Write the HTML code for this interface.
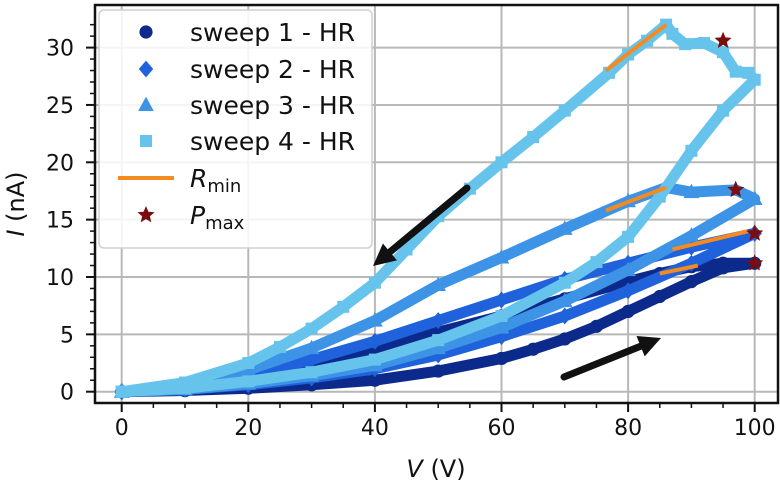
<!DOCTYPE html>
<html><head><meta charset="utf-8"><style>
body{margin:0;background:#fff}
svg text{font-family:"DejaVu Sans","Liberation Sans",sans-serif;fill:#111}
</style></head><body>
<svg id="c" width="780" height="486" xmlns="http://www.w3.org/2000/svg"></svg>
<script>
const sweepNames=["sweep 1 - HR","sweep 2 - HR","sweep 3 - HR","sweep 4 - HR"];
const sweepColors=["#0c2a8c","#1f62dc","#3d94e6","#66c3ec"];
const sweepMarkers=["circle","diamond","triangle","square"];
const s1V=[0,10,20,30,40,50,60,65,70,75,80,85,90,95,100,95,90,85,80,70,60,50,40,30,20,10,0];
const s1I=[0,0.1,0.3,0.6,1.0,1.8,2.9,3.7,4.6,5.7,7.0,8.3,9.6,10.8,11.2,11.2,10.9,10.3,9.6,8.1,6.6,5.2,3.8,2.4,1.2,0.3,0];
const s2V=[0,10,20,30,40,50,60,70,80,90,100,90,80,70,60,50,40,30,20,10,0];
const s2I=[0,0.2,0.6,1.2,2.0,3.2,4.8,6.6,8.8,11.2,13.8,12.6,11.2,9.8,8.0,6.2,4.4,2.8,1.4,0.4,0];
const s3V=[0,10,20,30,40,50,60,70,80,90,100,97,90,86,80,70,60,50,40,30,20,10,0];
const s3I=[0,0.2,0.7,1.4,2.3,3.8,5.6,7.9,10.6,13.6,16.8,17.6,17.4,17.8,16.6,14.2,11.7,9.3,6.2,3.8,1.9,0.6,0];
const s4V=[0,10,20,30,40,50,60,70,75,80,85,90,95,100,99,97,95,92,89,87,86,83,80,77,70,65,60,55,50,45,40,35,30,25,20,10,0];
const s4I=[0,0.3,0.9,1.7,2.8,4.5,6.6,9.5,11.3,13.5,17,21,24.5,27.2,27.8,27.9,29.6,30.4,30.3,31.2,32,30.6,29.4,27.8,24.5,22.2,20,17.7,15.3,12.4,9.5,7.4,5.5,3.9,2.5,0.8,0];
const sweepV=[s1V,s2V,s3V,s4V], sweepI=[s1I,s2I,s3I,s4I];
const rminV0=[85,87,76.5,76.5], rminI0=[10.3,12.4,15.8,28], rminV1=[91,99,86,86], rminI1=[11,14,17.8,32];
const pmaxV=[100,100,97,95], pmaxI=[11.2,13.8,17.6,30.6];
const xTicks=[0,20,40,60,80,100], yTicks=[0,5,10,15,20,25,30];

const NS="http://www.w3.org/2000/svg", svg=document.getElementById('c');
const L=95,R=778,T=5,B=403;
const X=v=>121.7+v*6.33, Y=i=>391.7-i*11.47;
function el(t,a,p){const e=document.createElementNS(NS,t);for(const k in a)e.setAttribute(k,a[k]);(p||svg).appendChild(e);return e;}
function marker(type,x,y,s,c,g){
  if(type==="circle")return el('circle',{cx:x,cy:y,r:s*0.55,fill:c},g);
  if(type==="square")return el('rect',{x:x-s*0.5,y:y-s*0.5,width:s,height:s,fill:c},g);
  if(type==="diamond")return el('polygon',{points:`${x},${y-s*0.7} ${x+s*0.6},${y} ${x},${y+s*0.7} ${x-s*0.6},${y}`,fill:c},g);
  if(type==="triangle")return el('polygon',{points:`${x},${y-s*0.7} ${x+s*0.65},${y+s*0.5} ${x-s*0.65},${y+s*0.5}`,fill:c},g);
}
function star(x,y,r,c,g){let p=[];for(let k=0;k<10;k++){const a=-Math.PI/2+k*Math.PI/5,rr=k%2?r*0.45:r;p.push((x+rr*Math.cos(a)).toFixed(1)+","+(y+rr*Math.sin(a)).toFixed(1));}return el('polygon',{points:p.join(' '),fill:c},g);}

const grid=el('g',{});


xTicks.forEach(v=>el('line',{x1:X(v),x2:X(v),y1:T,y2:B,stroke:'#b8b8b8','stroke-width':2},grid));
yTicks.forEach(v=>el('line',{x1:L,x2:R,y1:Y(v),y2:Y(v),stroke:'#b8b8b8','stroke-width':2},grid));

sweepV.forEach((vs,s)=>{
  const g=el('g',{});
  
  
  el('polyline',{points:vs.map((v,k)=>X(v)+','+Y(sweepI[s][k])).join(' '),fill:'none',stroke:sweepColors[s],'stroke-width':11,'stroke-linejoin':'round'},g);
  vs.forEach((v,k)=>marker(sweepMarkers[s],X(v),Y(sweepI[s][k]),12,sweepColors[s],g));
});
rminV0.forEach((v,k)=>{
  const l=el('line',{x1:X(v),y1:Y(rminI0[k]),x2:X(rminV1[k]),y2:Y(rminI1[k]),stroke:'#f58a1f','stroke-width':4});
  
  
});
pmaxV.forEach((v,k)=>{
  const s=star(X(v),Y(pmaxI[k]),9,'#7a0d0d');
  
  
});
function arrow(x1,y1,x2,y2,name){
  const g=el('g',{});
  
  
  const a=Math.atan2(y2-y1,x2-x1),hl=22,hw=11;
  const bx=x2-hl*Math.cos(a),by=y2-hl*Math.sin(a);
  el('line',{x1:x1,y1:y1,x2:bx,y2:by,stroke:'#111','stroke-width':7,'stroke-linecap':'round'},g);
  el('polygon',{points:`${x2},${y2} ${bx+hw*Math.sin(a)},${by-hw*Math.cos(a)} ${bx-hw*Math.sin(a)},${by+hw*Math.cos(a)}`,fill:'#111'},g);
}
arrow(467,188,373,266,'down-sweep-arrow');
arrow(564,377,661,338,'up-sweep-arrow');

const ax=el('g',{});


el('rect',{x:L,y:T,width:R-L,height:B-T,fill:'none',stroke:'#111','stroke-width':2.5},ax);
for(let v=0;v<=100;v+=5){const maj=v%20===0;el('line',{x1:X(v),x2:X(v),y1:B,y2:B+(maj?9:5),stroke:'#111','stroke-width':maj?2:1.5},ax);}
for(let i=0;i<=32;i++){const maj=i%5===0;el('line',{x1:L,x2:L-(maj?9:5),y1:Y(i),y2:Y(i),stroke:'#111','stroke-width':maj?2:1.5},ax);}
xTicks.forEach(v=>{const t=el('text',{x:X(v),y:435,'font-size':22,'text-anchor':'middle'},ax);t.textContent=v;});
yTicks.forEach(v=>{const t=el('text',{x:74,y:Y(v)+8,'font-size':22,'text-anchor':'end'},ax);t.textContent=v;});
const xl=el('text',{x:436,y:477,'font-size':24,'text-anchor':'middle'});xl.innerHTML='<tspan font-style="italic">V</tspan> (V)';

const yl=el('text',{x:0,y:0,'font-size':24,'text-anchor':'middle',transform:'translate(24,204) rotate(-90)'});yl.innerHTML='<tspan font-style="italic">I</tspan> (nA)';


const lg=el('g',{});


el('rect',{x:99,y:10,width:273,height:238,rx:5,fill:'rgba(255,255,255,0.85)',stroke:'#d0d0d0','stroke-width':1.5},lg);
const ly=[32,69,105,141,178,215];
sweepNames.forEach((n,s)=>{
  const e=el('g',{},lg);
  
  
  marker(sweepMarkers[s],146,ly[s],12,sweepColors[s],e);
  const t=el('text',{x:190,y:ly[s]+9,'font-size':25},e);t.textContent=n;
});
const er=el('g',{},lg);


el('line',{x1:118,x2:174,y1:ly[4],y2:ly[4],stroke:'#f58a1f','stroke-width':4},er);
const tr=el('text',{x:190,y:ly[4]+9,'font-size':25},er);tr.innerHTML='<tspan font-style="italic">R</tspan><tspan font-size="18" dy="5">min</tspan>';
const ep=el('g',{},lg);


star(146,ly[5],9,'#7a0d0d',ep);
const tp=el('text',{x:190,y:ly[5]+9,'font-size':25},ep);tp.innerHTML='<tspan font-style="italic">P</tspan><tspan font-size="18" dy="5">max</tspan>';
</script>
</body></html>
